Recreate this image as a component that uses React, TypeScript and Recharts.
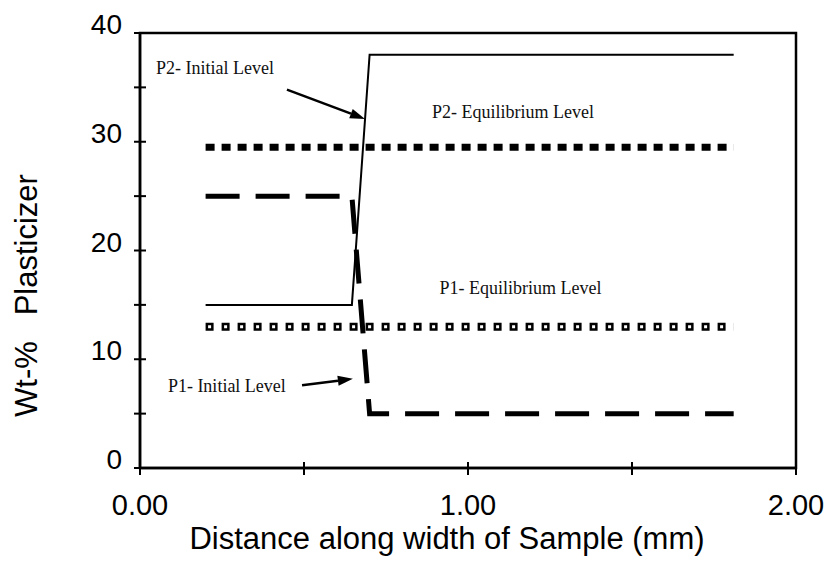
import React from 'react';
import { LineChart, Line, XAxis, YAxis, ReferenceArea, ReferenceLine, ReferenceDot } from 'recharts';

// ---- data ----
const xTicks = [0, 0.5, 1, 1.5, 2];
const yTicks = [0, 5, 10, 15, 20, 25, 30, 35, 40];
const xLabeledTicks = [0, 1, 2];
const yLabeledTicks = [0, 10, 20, 30, 40];

const p2InitialX = [0.2, 0.646, 0.7, 1.81];
const p2InitialY = [15, 15, 38, 38];
const p1InitialX = [0.2, 0.646, 0.7, 1.81];
const p1InitialY = [25, 25, 5, 5];
const p2EquilX = [0.2, 1.81];
const p2EquilY = [29.5, 29.5];
const p1EquilX = [0.2, 1.81];
const p1EquilY = [13, 13];

const annotationTexts = ['P2- Initial Level', 'P2- Equilibrium Level', 'P1- Equilibrium Level', 'P1- Initial Level'];
const annotationX = [0.049, 1.137, 1.16, 0.085];
const annotationY = [36.2, 32.2, 16.0, 7.0];
const annotationAnchor = ['start', 'middle', 'middle', 'start'];

const arrowStartX = [0.448, 0.494];
const arrowStartY = [34.8, 7.6];
const arrowEndX = [0.686, 0.649];
const arrowEndY = [32.1, 8.2];

const xTitle = 'Distance along width of Sample (mm)';
const yTitle = 'Wt-%\u00a0\u00a0\u00a0Plasticizer';

const toPts = (xs: number[], ys: number[]) => xs.map((x, i) => ({ x, y: ys[i] }));

const p2Initial = toPts(p2InitialX, p2InitialY);
const p1Initial = toPts(p1InitialX, p1InitialY);
const p2Equil = toPts(p2EquilX, p2EquilY);
const p1Equil = toPts(p1EquilX, p1EquilY);

const SANS = '"Liberation Sans", Arial, sans-serif';
const SERIF = '"Liberation Serif", "Times New Roman", serif';

const YTick = (props: any) => {
  const { x, y, payload } = props;
  const v = payload.value;
  return (
    <g>
      <line x1={x - 6} x2={x + 6} y1={y} y2={y} stroke="#000" strokeWidth={2} />
      {yLabeledTicks.includes(v) && (
        <text x={x - 18} y={y + 1} textAnchor="end" fontSize={28} fontFamily={SANS} fill="#000">
          {v}
        </text>
      )}
    </g>
  );
};

const XTick = (props: any) => {
  const { x, y, payload } = props;
  const v = payload.value;
  return (
    <g>
      <line x1={x} x2={x} y1={y - 6} y2={y + 7} stroke="#000" strokeWidth={2} />
      {xLabeledTicks.includes(v) && (
        <text x={x} y={y + 47} textAnchor="middle" fontSize={29} fontFamily={SANS} fill="#000">
          {v.toFixed(2)}
        </text>
      )}
    </g>
  );
};

const XTitle = (props: any) => {
  const vb = props.viewBox || {};
  return (
    <text x={vb.x + vb.width / 2 - 21} y={vb.y + 81} textAnchor="middle" fontSize={31} fontFamily={SANS} fill="#000">
      {xTitle}
    </text>
  );
};

const YTitle = (props: any) => {
  const vb = props.viewBox || {};
  const cx = vb.x + 26;
  const cy = vb.y + vb.height / 2 + 45;
  return (
    <text
      x={cx}
      y={cy}
      transform={`rotate(-90, ${cx}, ${cy})`}
      textAnchor="middle"
      dominantBaseline="central"
      fontSize={31}
      fontFamily={SANS}
      fill="#000"
    >
      {yTitle}
    </text>
  );
};

const Arrow = (props: any) => {
  const { x1, y1, x2, y2 } = props;
  const ang = Math.atan2(y2 - y1, x2 - x1);
  const len = 15;
  const hw = 5;
  const bx = x2 - len * Math.cos(ang);
  const by = y2 - len * Math.sin(ang);
  const px = -Math.sin(ang) * hw;
  const py = Math.cos(ang) * hw;
  return (
    <g>
      <line x1={x1} y1={y1} x2={bx} y2={by} stroke="#000" strokeWidth={2.5} />
      <polygon points={`${x2},${y2} ${bx + px},${by + py} ${bx - px},${by - py}`} fill="#000" />
    </g>
  );
};

const makeTextShape = (i: number) => (props: any) => (
  <text
    x={props.cx}
    y={props.cy}
    textAnchor={annotationAnchor[i] as any}
    fontSize={18}
    fontFamily={SERIF}
    fill="#111"
  >
    {annotationTexts[i]}
  </text>
);

export default function App() {
  return (
    <div style={{ position: 'absolute', left: 0, top: 0, width: 826, height: 562 }}>
      <LineChart width={826} height={562} margin={{ top: 33, right: 30, bottom: 0, left: 0 }}>
        <XAxis
          type="number"
          dataKey="x"
          domain={[0, 2]}
          ticks={xTicks}
          allowDataOverflow
          height={94}
          tickSize={0}
          tickMargin={0}
          tickLine={false}
          tick={<XTick />}
          axisLine={{ stroke: '#000', strokeWidth: 2.5 }}
          label={{ content: XTitle }}
        />
        <YAxis
          type="number"
          dataKey="y"
          domain={[0, 40]}
          ticks={yTicks}
          allowDataOverflow
          width={140}
          tickSize={0}
          tickMargin={0}
          tickLine={false}
          tick={<YTick />}
          axisLine={{ stroke: '#000', strokeWidth: 2.5 }}
          label={{ content: YTitle }}
        />
        <ReferenceArea x1={0} x2={2} y1={0} y2={40} fill="none" fillOpacity={0} stroke="#000" strokeWidth={2.5} />

        <Line data={p1Equil} dataKey="y" stroke="#000" strokeWidth={8} strokeDasharray="8 8" dot={false} activeDot={false} isAnimationActive={false} legendType="none" />
        <Line data={p1Equil} dataKey="y" stroke="#fff" strokeWidth={3} strokeDasharray="3 13" strokeDashoffset={13.5} dot={false} activeDot={false} isAnimationActive={false} legendType="none" />
        <Line data={p2Equil} dataKey="y" stroke="#000" strokeWidth={7} strokeDasharray="9 7" dot={false} activeDot={false} isAnimationActive={false} legendType="none" />
        <Line data={p1Initial} dataKey="y" stroke="#000" strokeWidth={5} strokeDasharray="34 16" dot={false} activeDot={false} isAnimationActive={false} legendType="none" />
        <Line data={p2Initial} dataKey="y" stroke="#000" strokeWidth={2} dot={false} activeDot={false} isAnimationActive={false} legendType="none" />

        {arrowStartX.map((sx, i) => (
          <ReferenceLine
            key={`arrow-${i}`}
            segment={[{ x: sx, y: arrowStartY[i] }, { x: arrowEndX[i], y: arrowEndY[i] }]}
            shape={Arrow}
            ifOverflow="visible"
          />
        ))}
        {annotationTexts.map((t, i) => (
          <ReferenceDot key={t} x={annotationX[i]} y={annotationY[i]} r={0} shape={makeTextShape(i)} ifOverflow="visible" />
        ))}
      </LineChart>
    </div>
  );
}
